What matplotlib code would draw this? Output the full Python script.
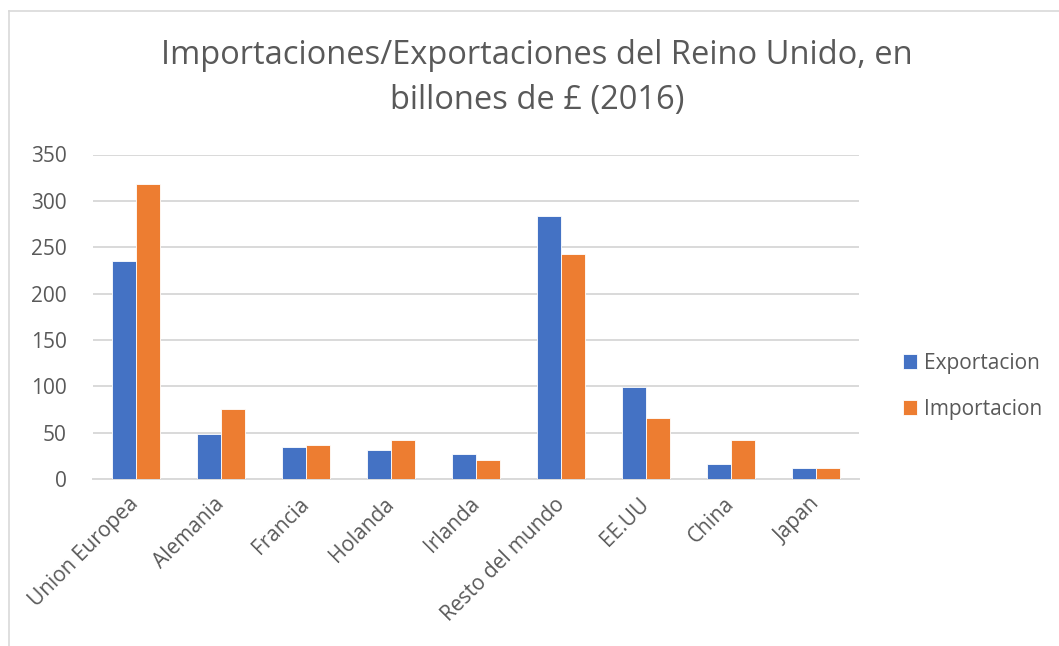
import matplotlib
matplotlib.use("Agg")
from matplotlib import pyplot as plt
from matplotlib.lines import Line2D

# UK trade by partner, 2016 (billions of £)
countries = ["Union Europea", "Alemania", "Francia", "Holanda", "Irlanda",
             "Resto del mundo", "EE.UU", "China", "Japan"]
exportacion = [235.5, 49, 34, 31, 26.5, 284, 99.5, 16.5, 12]
importacion = [318, 75, 37, 42, 20, 243, 66, 42, 11.5]

blue = "#4472C4"
orange = "#ED7D31"
grey_text = "#595959"
grid_col = "#D9D9D9"

plt.rcParams['font.family'] = ['Open Sans', 'DejaVu Sans']

fig = plt.figure(figsize=(10.59, 6.46), dpi=100)
ax = fig.add_axes([93 / 1059, 1 - 479 / 646, 766 / 1059, 324.5 / 646])

x = list(range(len(countries)))
w = 0.282
ax.bar([i - w / 2 for i in x], exportacion, width=w, color=blue,
       edgecolor="white", linewidth=0.6, label="Exportacion", zorder=3)
ax.bar([i + w / 2 for i in x], importacion, width=w, color=orange,
       edgecolor="white", linewidth=0.6, label="Importacion", zorder=3)

ax.set_xlim(-0.5, len(countries) - 0.5)
ax.set_ylim(0, 350)
ax.set_yticks(range(0, 351, 50))
ax.yaxis.grid(True, color=grid_col, linewidth=1.4, zorder=0)
for s in ["top", "right", "left"]:
    ax.spines[s].set_visible(False)
ax.spines["bottom"].set_color(grid_col)
ax.spines["bottom"].set_linewidth(1.4)
ax.tick_params(length=0, colors=grey_text, labelsize=15)
ax.tick_params(axis="y", pad=19)
ax.set_xticks(x)
ax.set_xticklabels(countries, rotation=45, ha="right", va="center",
                   rotation_mode="anchor")
ax.tick_params(axis="x", pad=16)

fig.text(0.507, 1 - 78 / 646,
         "Importaciones/Exportaciones del Reino Unido, en\nbillones de £ (2016)",
         ha="center", va="center", fontsize=23.5, color=grey_text, linespacing=1.5)

fig.legend(loc="center left", bbox_to_anchor=(884 / 1059, 1 - 386 / 646),
           frameon=False, fontsize=15, labelcolor=grey_text,
           handlelength=0.7, handleheight=0.7, handletextpad=0.3,
           labelspacing=1.2)

# chart frame (left and top edges visible)
fig.add_artist(Line2D([8.5 / 1059, 8.5 / 1059], [0, 1 - 10.5 / 646],
                      transform=fig.transFigure, color=grid_col, linewidth=1.2))
fig.add_artist(Line2D([8.5 / 1059, 1], [1 - 10.5 / 646, 1 - 10.5 / 646],
                      transform=fig.transFigure, color=grid_col, linewidth=1.2))

fig.savefig("out.png", dpi=100)
